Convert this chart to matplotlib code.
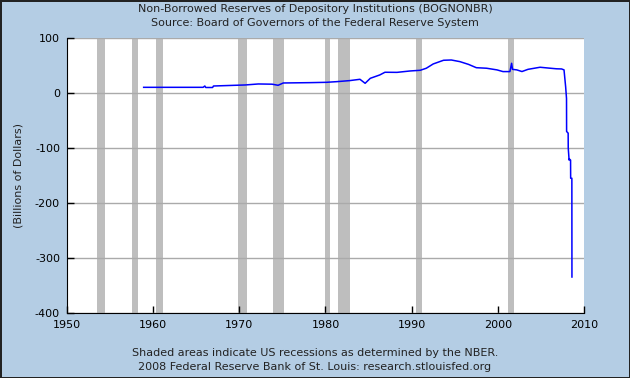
import matplotlib.pyplot as plt

plt.rcParams["axes.unicode_minus"] = False

# recession periods (NBER), start / end as decimal years
rec_start = [1953.5, 1957.6, 1960.3, 1969.9, 1973.9, 1980.0, 1981.5, 1990.5, 2001.2]
rec_end = [1954.4, 1958.3, 1961.1, 1970.9, 1975.2, 1980.5, 1982.9, 1991.2, 2001.9]

# non-borrowed reserves, billions of dollars
years = [1958.9, 1962.0, 1965.8, 1966.0, 1966.1, 1966.9, 1967.0, 1970.7, 1972.2, 1973.8,
         1974.5, 1975.1, 1978.2, 1980.1, 1981.3, 1982.8, 1984.0, 1984.6, 1985.2, 1986.3,
         1986.9, 1988.3, 1989.8, 1991.0, 1991.7, 1992.5, 1993.7, 1994.6, 1995.6, 1996.6,
         1997.5, 1998.7, 1999.9, 2000.6, 2001.4, 2001.6, 2001.7, 2002.2, 2002.8, 2003.5,
         2004.9, 2006.1, 2006.8, 2007.4, 2007.68, 2007.87, 2007.97, 2007.98, 2008.16, 2008.17,
         2008.27, 2008.3, 2008.44, 2008.45, 2008.59, 2008.6]
values = [10.3, 10.3, 10.3, 12.7, 10.0, 10.0, 12.7, 14.6, 16.4, 16.0,
          14.0, 18.2, 18.8, 19.4, 20.6, 22.5, 24.9, 17.6, 26.7, 32.8,
          37.7, 37.5, 40.0, 41.3, 45.0, 52.8, 59.5, 60.0, 57.0, 52.0,
          46.0, 45.0, 42.0, 38.9, 38.9, 54.0, 43.0, 42.0, 39.0, 43.0,
          46.8, 45.0, 44.0, 43.7, 42.0, 11.0, -10.0, -70.0, -73.0, -100.0,
          -122.0, -120.0, -122.0, -155.0, -155.0, -334.6]

bg = "#b4cde4"
fig = plt.figure(figsize=(6.3, 3.78), dpi=100, facecolor=bg,
                 edgecolor="#222222", linewidth=1.0)
ax = fig.add_axes([0.1063, 0.172, 0.8207, 0.7275])

for s, e in zip(rec_start, rec_end):
    ax.axvspan(s, e, color="#bebebe", lw=0, zorder=1)

ax.plot(years, values, color="#0000ff", lw=1.1, zorder=3)

ax.set_xlim(1950, 2010)
ax.set_ylim(-400, 100)
ax.set_xticks(range(1950, 2011, 10))
ax.set_yticks(range(-400, 101, 100))
ax.yaxis.grid(True, color="#aaaaaa", lw=1, zorder=2)
ax.set_axisbelow(False)
for side in ["top", "right"]:
    ax.spines[side].set_visible(False)
for side in ["left", "bottom"]:
    ax.spines[side].set_color("black")
    ax.spines[side].set_zorder(4)
ax.tick_params(direction="in", length=5, width=1, labelsize=8, color="black", pad=5)
ax.set_ylabel("(Billions of Dollars)", fontsize=8, color="#222222", labelpad=8)

fig.text(0.5, 0.975, "Non-Borrowed Reserves of Depository Institutions (BOGNONBR)",
         ha="center", va="center", fontsize=8, color="#222222")
fig.text(0.5, 0.938, "Source: Board of Governors of the Federal Reserve System",
         ha="center", va="center", fontsize=8, color="#222222")
fig.text(0.5, 0.066, "Shaded areas indicate US recessions as determined by the NBER.",
         ha="center", va="center", fontsize=8, color="#222222")
fig.text(0.5, 0.029, "2008 Federal Reserve Bank of St. Louis: research.stlouisfed.org",
         ha="center", va="center", fontsize=8, color="#222222")

fig.savefig("out.png", dpi=100, facecolor=bg, edgecolor="#222222")
